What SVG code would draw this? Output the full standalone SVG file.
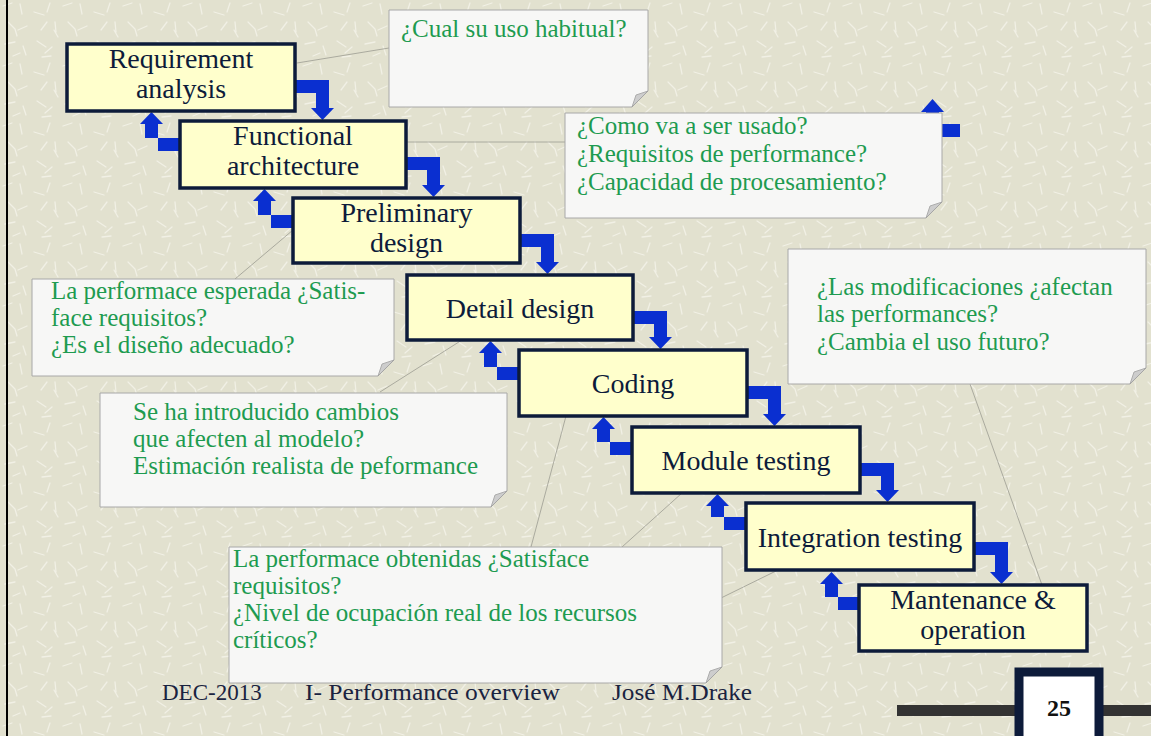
<svg xmlns="http://www.w3.org/2000/svg" width="1151" height="736" viewBox="0 0 1151 736">
<defs>
<pattern id="tex" width="60" height="60" patternUnits="userSpaceOnUse">
<rect width="60" height="60" fill="#e2e1cf"/>
<path d="M3 6 l9 -3 M20 4 l2 10 M34 12 l10 3 M50 3 l-3 9 M8 22 l7 7 M27 26 l-9 4 M41 30 l6 -8 M55 22 l1 10 M5 44 l10 -2 M23 46 l3 9 M37 41 l9 6 M52 47 l-7 6 M13 56 l7 -3 M42 57 l9 -1 M58 37 l-4 -7 M17 36 l-2 -7" stroke="#f1f0e5" stroke-width="1.3" stroke-linecap="round" fill="none"/>
</pattern>
<style>
.box{fill:#ffffcc;stroke:#0d1b3a;stroke-width:3.5}
.bt{font-family:"Liberation Serif","Times New Roman",serif;font-size:28px;fill:#0d1b3a;text-anchor:middle}
.arrow{fill:#0a2fd0}
.call{fill:#f7f7f6;stroke:#a8a8a8;stroke-width:1}
.fold{fill:#cdcdcd;stroke:#a0a0a0;stroke-width:0.8}
.ct{font-family:"Liberation Serif","Times New Roman",serif;font-size:25px;fill:#1e9b50}
.lead{stroke:#9c9c92;stroke-width:0.8;fill:none}
.foot{font-family:"Liberation Serif","Times New Roman",serif;font-size:23px;fill:#1a2340}
</style>
</defs>
<rect width="1151" height="736" fill="url(#tex)"/>
<rect x="6" y="0" width="2" height="736" fill="#000"/>

<g id="leaders">
<line class="lead" x1="297" y1="63" x2="389" y2="48"/>
<line class="lead" x1="406" y1="142" x2="565" y2="142"/>
<line class="lead" x1="235" y1="279" x2="293" y2="230"/>
<line class="lead" x1="380" y1="392" x2="462" y2="340"/>
<line class="lead" x1="970" y1="384" x2="1042" y2="585"/>
<line class="lead" x1="531" y1="547" x2="566" y2="416"/>
<line class="lead" x1="622" y1="547" x2="682" y2="493"/>
<line class="lead" x1="721" y1="598" x2="778" y2="570"/>
</g>

<g id="connectors">
<path class="arrow" d="M960,124 H939 V112 H944 L932.5,99 L921,112 H926 V137 H960 Z"/>
<path class="arrow" d="M295,80 H329 V108 H334 L322.5,120 L311,108 H316 V93 H295 Z"/>
<path class="arrow" d="M406,157 H440 V185 H445 L433.5,197 L422,185 H427 V170 H406 Z"/>
<path class="arrow" d="M520,234 H554 V262 H559 L547.5,274 L536,262 H541 V247 H520 Z"/>
<path class="arrow" d="M633,311 H667 V337 H672 L660.5,349 L649,337 H654 V324 H633 Z"/>
<path class="arrow" d="M747,386 H781 V414 H786 L774.5,426 L763,414 H768 V399 H747 Z"/>
<path class="arrow" d="M860,463 H894 V490 H899 L887.5,502 L876,490 H881 V476 H860 Z"/>
<path class="arrow" d="M974,542 H1008 V572 H1013 L1001.5,584 L990,572 H995 V555 H974 Z"/>
<path class="arrow" d="M180,138 H145 V124 H140 L151.5,112 L163,124 H158 V151 H180 Z"/>
<path class="arrow" d="M293,215 H258 V201 H253 L264.5,189 L276,201 H271 V228 H293 Z"/>
<path class="arrow" d="M519,367 H484 V353 H479 L490.5,341 L502,353 H497 V380 H519 Z"/>
<path class="arrow" d="M632,442 H597 V429 H592 L603.5,417 L615,429 H610 V455 H632 Z"/>
<path class="arrow" d="M746,517 H711 V506 H706 L717.5,494 L729,506 H724 V530 H746 Z"/>
<path class="arrow" d="M859,597 H825 V584 H820 L831.5,572 L843,584 H838 V610 H859 Z"/>
</g>

<g id="n1"><rect class="box" x="67" y="44" width="228" height="67"/><text class="bt" x="181" y="68">Requirement</text><text class="bt" x="181" y="98">analysis</text></g>
<g id="n2"><rect class="box" x="180" y="121" width="226" height="67"/><text class="bt" x="293" y="145">Functional</text><text class="bt" x="293" y="175">architecture</text></g>
<g id="n3"><rect class="box" x="293" y="198" width="227" height="65"/><text class="bt" x="406.5" y="222">Preliminary</text><text class="bt" x="406.5" y="252">design</text></g>
<g id="n4"><rect class="box" x="407" y="275" width="226" height="65"/><text class="bt" x="520" y="318">Detail design</text></g>
<g id="n5"><rect class="box" x="519" y="350" width="228" height="66"/><text class="bt" x="633" y="393">Coding</text></g>
<g id="n6"><rect class="box" x="632" y="427" width="228" height="66"/><text class="bt" x="746" y="470">Module testing</text></g>
<g id="n7"><rect class="box" x="746" y="503" width="228" height="67"/><text class="bt" x="860" y="547">Integration testing</text></g>
<g id="n8"><rect class="box" x="859" y="585" width="228" height="66"/><text class="bt" x="973" y="609">Mantenance &amp;</text><text class="bt" x="973" y="639">operation</text></g>

<g id="c1"><path class="call" d="M389,10 H648 V91 L632,107 H389 Z"/><path class="fold" d="M648,91 L632,107 L636,95 Z"/>
<text class="ct" x="401" y="37">¿Cual su uso habitual?</text></g>
<g id="c2"><path class="call" d="M565,113 H942 V202 L926,218 H565 Z"/><path class="fold" d="M942,202 L926,218 L930,206 Z"/>
<text class="ct" x="577" y="134">¿Como va a ser usado?</text><text class="ct" x="577" y="162">¿Requisitos de performance?</text><text class="ct" x="577" y="190">¿Capacidad de procesamiento?</text></g>
<g id="c3"><path class="call" d="M32,279 H394 V360 L378,376 H32 Z"/><path class="fold" d="M394,360 L378,376 L382,364 Z"/>
<text class="ct" x="51" y="299">La performace esperada ¿Satis-</text><text class="ct" x="51" y="326">face requisitos?</text><text class="ct" x="51" y="353">¿Es el diseño adecuado?</text></g>
<g id="c4"><path class="call" d="M100,393 H507 V491 L491,507 H100 Z"/><path class="fold" d="M507,491 L491,507 L495,495 Z"/>
<text class="ct" x="133" y="420">Se ha introducido cambios</text><text class="ct" x="133" y="447">que afecten al modelo?</text><text class="ct" x="133" y="474">Estimación realista de peformance</text></g>
<g id="c5"><path class="call" d="M788,249 H1146 V368 L1130,384 H788 Z"/><path class="fold" d="M1146,368 L1130,384 L1134,372 Z"/>
<text class="ct" x="817" y="295">¿Las modificaciones ¿afectan</text><text class="ct" x="817" y="322">las performances?</text><text class="ct" x="817" y="350">¿Cambia el uso futuro?</text></g>
<g id="c6"><path class="call" d="M229,547 H722 V667 L706,683 H229 Z"/><path class="fold" d="M722,667 L706,683 L710,671 Z"/>
<text class="ct" x="233" y="567">La performace obtenidas ¿Satisface</text><text class="ct" x="233" y="594">requisitos?</text><text class="ct" x="233" y="621">¿Nivel de ocupación real de los recursos</text><text class="ct" x="233" y="648">críticos?</text></g>

<g id="footer">
<text class="foot" x="162" y="700">DEC-2013</text>
<text class="foot" x="305" y="700" textLength="255" lengthAdjust="spacingAndGlyphs">I- Performance overview</text>
<text class="foot" x="612" y="700" textLength="140" lengthAdjust="spacingAndGlyphs">José M.Drake</text>
</g>
<g id="pagenum">
<rect x="897" y="705" width="254" height="11" fill="#333"/>
<rect x="1019" y="672" width="80" height="70" fill="#fff" stroke="#0d1b3a" stroke-width="9"/>
<text x="1059" y="716" font-family="Liberation Serif, Times New Roman, serif" font-size="24" font-weight="bold" fill="#111" text-anchor="middle">25</text>
</g>
</svg>
